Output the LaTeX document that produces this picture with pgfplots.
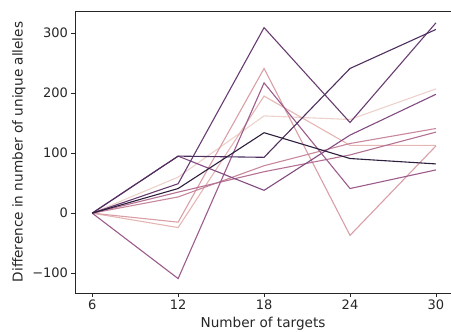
\documentclass[border=0pt]{standalone}
\usepackage{fontspec}
\setmainfont{DejaVu Sans}
\usepackage{pgfplots}
\pgfplotsset{compat=1.18}
\definecolor{c1}{HTML}{EDD1CB}
\definecolor{c2}{HTML}{E5B6B3}
\definecolor{c3}{HTML}{DA9EA6}
\definecolor{c4}{HTML}{C9879C}
\definecolor{c5}{HTML}{B57193}
\definecolor{c6}{HTML}{9C5C8B}
\definecolor{c7}{HTML}{824B80}
\definecolor{c8}{HTML}{683C71}
\definecolor{c9}{HTML}{4D2E5D}
\definecolor{c10}{HTML}{2D1E3E}
\begin{document}
\begin{tikzpicture}
\begin{axis}[
  scale only axis,
  width=376pt, height=282pt,
  xmin=4.8, xmax=31.05,
  ymin=-133, ymax=336.7,
  axis x line*=bottom, axis y line*=left,
  axis line style={black!85, line width=0.8pt},
  xtick={6,12,18,24,30},
  ytick={-100,0,100,200,300},
  yticklabels={−100,0,100,200,300},
  tick align=outside,
  major tick length=3.5pt,
  tick style={black!85, line width=0.8pt},
  /pgf/number format/assume math mode=true,
  ticklabel style={font=\fontsize{13}{15}\selectfont, text=black!85},
  xlabel={Number of targets},
  ylabel={Difference in number of unique alleles},
  label style={font=\fontsize{13.6}{16}\selectfont, text=black!85},
  xlabel style={yshift=0pt},
  ylabel style={yshift=0pt},
  every axis plot/.append style={line width=1.1pt},
  after end axis/.code={\draw[black!85, line width=0.8pt] (rel axis cs:0,1) -- (rel axis cs:1,1);},
]
\addplot[c1] coordinates {(6,0) (12,60) (18,162) (24,156) (30,207)};
\addplot[c2] coordinates {(6,0) (12,-24) (18,195) (24,113) (30,113)};
\addplot[c3] coordinates {(6,0) (12,-15) (18,241) (24,-37) (30,112)};
\addplot[c4] coordinates {(6,0) (12,27) (18,79) (24,116) (30,141)};
\addplot[c5] coordinates {(6,0) (12,35) (18,69) (24,97) (30,135)};
\addplot[c6] coordinates {(6,0) (12,-109) (18,217) (24,41) (30,72)};
\addplot[c7] coordinates {(6,0) (12,95) (18,38) (24,130) (30,198)};
\addplot[c8] coordinates {(6,0) (12,49) (18,309) (24,151) (30,317)};
\addplot[c9] coordinates {(6,0) (12,95) (18,93) (24,241) (30,306)};
\addplot[c10] coordinates {(6,0) (12,41) (18,134) (24,91) (30,82)};
\end{axis}
\pgfresetboundingbox
\path (current axis.south west) ++(-75pt,-38pt) coordinate (bl);
\path (current axis.north east) ++(0pt,11pt) coordinate (tr);
\path (bl) rectangle (tr);
\end{tikzpicture}
\end{document}
